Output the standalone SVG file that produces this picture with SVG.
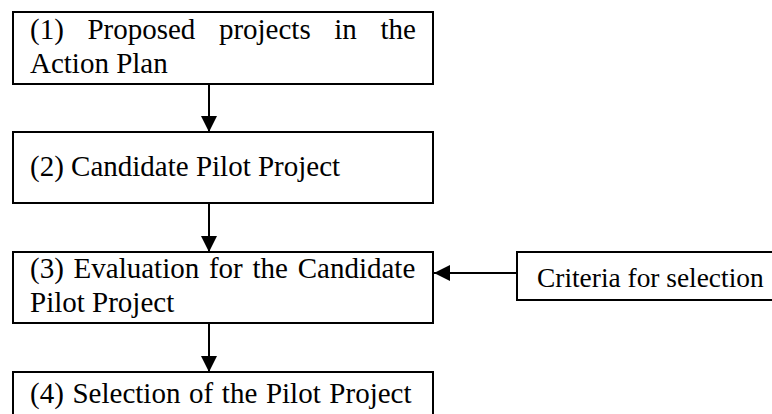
<svg xmlns="http://www.w3.org/2000/svg" width="772" height="414" viewBox="0 0 772 414">
<defs>
<style>
.box{fill:#fff;stroke:#000;stroke-width:2}
.t{font-family:"Liberation Serif","Times New Roman",serif;font-size:29px;fill:#000}
.s{font-size:27.4px}
.c{stroke:#000;stroke-width:2;fill:none}
</style>
<marker id="ah" viewBox="0 0 16 16" refX="16" refY="8" markerWidth="16" markerHeight="16" markerUnits="userSpaceOnUse" orient="auto">
<path d="M0,0 L16,8 L0,16 Z" fill="#000"/>
</marker>
</defs>
<rect width="772" height="414" fill="#fff"/>
<g id="connectors">
<line class="c" x1="209" y1="84" x2="209" y2="132" marker-end="url(#ah)"/>
<line class="c" x1="209" y1="203" x2="209" y2="252" marker-end="url(#ah)"/>
<line class="c" x1="209" y1="323" x2="209" y2="372" marker-end="url(#ah)"/>
<line class="c" x1="517" y1="273" x2="434" y2="273" marker-end="url(#ah)"/>
</g>
<g id="n1">
<rect class="box" x="13" y="12" width="420" height="72"/>
<text class="t" y="39"><tspan x="30">(1)</tspan><tspan x="87.4">Proposed</tspan><tspan x="218.9">projects</tspan><tspan x="334.3">in</tspan><tspan x="380.5">the</tspan></text>
<text class="t" x="30" y="73">Action Plan</text>
</g>
<g id="n2">
<rect class="box" x="13" y="132" width="420" height="71"/>
<text class="t" x="30" y="176">(2) Candidate Pilot Project</text>
</g>
<g id="n3">
<rect class="box" x="13" y="252" width="420" height="71"/>
<text class="t" x="30" y="278" word-spacing="2.5">(3) Evaluation for the Candidate</text>
<text class="t" x="30" y="312">Pilot Project</text>
</g>
<g id="n4">
<rect class="box" x="13" y="372" width="420" height="60"/>
<text class="t" x="30" y="403" word-spacing="1.4">(4) Selection of the Pilot Project</text>
</g>
<g id="n5">
<rect class="box" x="517" y="252" width="270" height="48"/>
<text class="t s" x="537" y="287">Criteria for selection</text>
</g>
</svg>
